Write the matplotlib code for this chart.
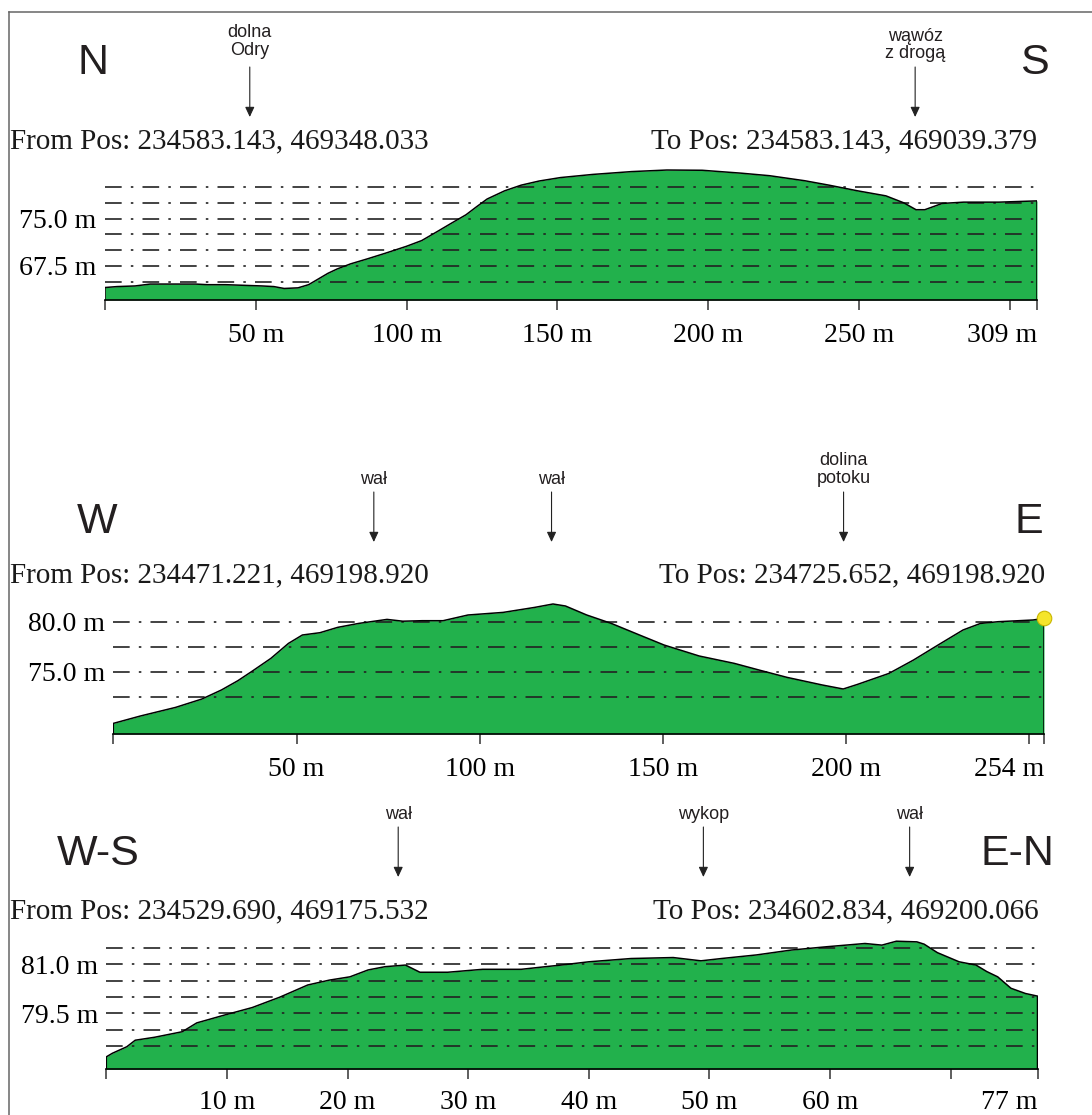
import matplotlib.pyplot as plt
from matplotlib.lines import Line2D

W, H = 1092, 1115

# --- profile 1: N - S ---
ns_dist = [0, 4, 10, 15, 20, 30, 34, 40, 52, 56, 59.4, 64, 67.5, 70, 73.9, 77, 81.4, 87, 93, 100,
           105, 110.4, 115, 119.7, 123, 126.7, 132.5, 138, 144, 151, 161.7, 174.6, 186.3, 198,
           210.9, 220.3, 232, 240, 249.5, 258.9, 264.8, 268.9, 271.8, 277.6, 284.7, 296.4, 309]
ns_elev = [64.05, 64.2, 64.3, 64.6, 64.6, 64.6, 64.5, 64.5, 64.3, 64.2, 63.9, 64.0, 64.5, 65.2,
           66.3, 67.0, 67.8, 68.6, 69.5, 70.6, 71.5, 73.0, 74.3, 75.6, 76.8, 78.1, 79.4, 80.3,
           80.96, 81.5, 82.0, 82.45, 82.7, 82.66, 82.2, 81.8, 81.0, 80.3, 79.4, 78.6, 77.5, 76.4,
           76.4, 77.4, 77.6, 77.6, 77.8]
ns_grid = [65.0, 67.5, 70.0, 72.5, 75.0, 77.5, 80.0]
ns_yticks = [67.5, 75.0]
ns_ylabels = ["67.5 m", "75.0 m"]
ns_xticks = [0, 50, 100, 150, 200, 250, 300, 309]
ns_xlabels = ["", "50 m", "100 m", "150 m", "200 m", "250 m", "", "309 m"]
ns_notes = ["dolna\nOdry", "wąwóz\nz drogą"]
ns_note_at = [48, 268.6]

# --- profile 2: W - E ---
we_dist = [0, 7.4, 17, 24.2, 29.5, 34, 38.1, 43, 47.8, 51.6, 56.4, 61.2, 67, 74.7, 79, 84.3, 90,
           96.8, 106.4, 115, 120, 123.4, 129.2, 135.9, 143.6, 150.3, 159.9, 169.5, 176.2, 183.9,
           193.5, 199.2, 203.1, 211.7, 218.4, 225.1, 231.9, 236.7, 241.5, 251, 254]
we_elev = [69.83, 70.57, 71.43, 72.27, 73.17, 74.1, 75.1, 76.33, 77.83, 78.67, 78.9, 79.43, 79.83,
           80.23, 80.05, 80.1, 80.1, 80.67, 80.93, 81.43, 81.77, 81.57, 80.67, 79.83, 78.67, 77.67,
           76.57, 75.83, 75.17, 74.43, 73.67, 73.27, 73.73, 74.83, 76.17, 77.67, 79.17, 79.83,
           80.0, 80.17, 80.33]
we_grid = [72.5, 75.0, 77.5, 80.0]
we_yticks = [75.0, 80.0]
we_ylabels = ["75.0 m", "80.0 m"]
we_xticks = [0, 50, 100, 150, 200, 250, 254]
we_xlabels = ["", "50 m", "100 m", "150 m", "200 m", "", "254 m"]
we_notes = ["wał", "wał", "dolina\npotoku"]
we_note_at = [71.1, 119.6, 199.3]

# --- profile 3: W-S - E-N ---
ws_dist = [0, 0.5, 1.7, 2.4, 4.0, 6.3, 7.5, 9.8, 12.1, 14.4, 16.7, 18.5, 20.2, 21.7, 23.1, 24.8,
           26, 28.3, 31.2, 34.4, 36.4, 37.7, 40, 43.5, 47, 49.3, 51, 53.9, 56.8, 59.7, 62.9, 64.3,
           65.5, 67.2, 67.8, 68.9, 70.7, 72.1, 73, 73.9, 75, 76.2, 77.2]
ws_elev = [78.17, 78.28, 78.48, 78.68, 78.77, 78.94, 79.21, 79.45, 79.68, 80.0, 80.37, 80.52,
           80.62, 80.83, 80.93, 80.98, 80.76, 80.76, 80.85, 80.85, 80.93, 80.98, 81.08, 81.18,
           81.21, 81.11, 81.18, 81.29, 81.44, 81.54, 81.64, 81.59, 81.71, 81.69, 81.62, 81.36,
           81.08, 80.98, 80.78, 80.62, 80.27, 80.11, 80.03]
ws_grid = [78.5, 79.0, 79.5, 80.0, 80.5, 81.0, 81.5]
ws_yticks = [79.5, 81.0]
ws_ylabels = ["79.5 m", "81.0 m"]
ws_xticks = [0, 10, 20, 30, 40, 50, 60, 70, 77.2]
ws_xlabels = ["", "10 m", "20 m", "30 m", "40 m", "50 m", "60 m", "", "77 m"]
ws_notes = ["wał", "wykop", "wał"]
ws_note_at = [24.2, 49.5, 66.6]

GREEN = "#22b14c"
SERIF = "Liberation Serif"
SANS = "Liberation Sans"

fig = plt.figure(figsize=(W / 100, H / 100), dpi=100)
fig.patch.set_facecolor("white")


def box(left, right, top, bottom):
    return [left / W, 1 - bottom / H, (right - left) / W, (bottom - top) / H]


def profile(rect, dist, elev, ylim, grid, yticks, ylabels, xticks, xlabels, pad=9.6):
    ax = fig.add_axes(rect)
    ax.set_xlim(dist[0], dist[-1])
    ax.set_ylim(*ylim)
    base = ylim[0]
    ax.fill_between(dist, elev, base, color=GREEN, lw=0, zorder=1)
    ax.plot([dist[0]] + dist + [dist[-1]], [base] + elev + [base], color="black", lw=1.1, zorder=3)
    for g in grid:
        ax.axhline(g, color="#222222", lw=1.2, ls=(0, (10, 5.5, 1.5, 5.5)), zorder=2)
    for s in ["top", "right", "left"]:
        ax.spines[s].set_visible(False)
    ax.spines["bottom"].set_linewidth(1.2)
    ax.set_xticks(xticks)
    ax.set_xticklabels(xlabels, fontfamily=SERIF, fontsize=20)
    ax.get_xticklabels()[-1].set_horizontalalignment("right")
    ax.tick_params(axis="x", length=7.2, width=1.1, color="#333333", pad=pad)
    ax.set_yticks(yticks)
    ax.set_yticklabels(ylabels, fontfamily=SERIF, fontsize=20)
    ax.tick_params(axis="y", length=0, pad=6)
    ax.patch.set_alpha(0)
    return ax


def notes(ax, labels, at, tops, arrow_top, arrow_tip):
    for lab, d, t in zip(labels, at, tops):
        ax.annotate(lab, xy=(d, H - t), xycoords=("data", "figure pixels"),
                    ha="center", va="top", fontfamily=SANS, fontsize=13,
                    color="#231f20", linespacing=1.05, annotation_clip=False)
        ax.annotate("", xy=(d, H - arrow_tip), xycoords=("data", "figure pixels"),
                    xytext=(d, H - arrow_top), textcoords=("data", "figure pixels"),
                    arrowprops=dict(arrowstyle="-|>,head_length=0.6,head_width=0.28",
                                    color="#222222", lw=0.8, shrinkA=0, shrinkB=0),
                    annotation_clip=False)


def header(left_txt, right_txt, left_x, right_x, base_y, c1, c2, cx1, cx2, c_base):
    fig.text(left_x / W, 1 - base_y / H, left_txt, ha="left", va="baseline",
             fontfamily=SERIF, fontsize=21, color="#1a1a1a")
    fig.text(right_x / W, 1 - base_y / H, right_txt, ha="right", va="baseline",
             fontfamily=SERIF, fontsize=21, color="#1a1a1a")
    fig.text(cx1 / W, 1 - c_base / H, c1, ha="center", va="baseline",
             fontfamily=SANS, fontsize=31, color="#231f20")
    fig.text(cx2 / W, 1 - c_base / H, c2, ha="center", va="baseline",
             fontfamily=SANS, fontsize=31, color="#231f20")


# panel 1
ax1 = profile(box(105, 1037, 160, 300), ns_dist, ns_elev, (62.07, 84.29),
              ns_grid, ns_yticks, ns_ylabels, ns_xticks, ns_xlabels)
notes(ax1, ns_notes, ns_note_at, [24, 27.7], 67, 117)
header("From Pos: 234583.143, 469348.033", "To Pos: 234583.143, 469039.379",
       10, 1037, 148, "N", "S", 93, 1034, 74)

# panel 2
ax2 = profile(box(113.3, 1044, 600, 734), we_dist, we_elev, (68.77, 82.17),
              we_grid, we_yticks, we_ylabels, we_xticks, we_xlabels)
ax2.scatter([we_dist[-1]], [we_elev[-1]], s=110, color="#f5e52a", edgecolor="#c9b600",
            linewidth=0.8, zorder=5, clip_on=False)
notes(ax2, we_notes, we_note_at, [471, 471, 452], 492, 542)
header("From Pos: 234471.221, 469198.920", "To Pos: 234725.652, 469198.920",
       10, 1045, 582, "W", "E", 97, 1029, 533)

# panel 3
ax3 = profile(box(106.3, 1037.5, 935, 1069.3), ws_dist, ws_elev, (77.79, 81.9),
              ws_grid, ws_yticks, ws_ylabels, ws_xticks, ws_xlabels, pad=7.8)
notes(ax3, ws_notes, ws_note_at, [806, 806, 806], 827, 877)
header("From Pos: 234529.690, 469175.532", "To Pos: 234602.834, 469200.066",
       10, 1039, 918, "W-S", "E-N", 98, 1017, 865)

# frame on the left and top
fig.add_artist(Line2D([9 / W, 9 / W], [0, 1 - 12 / H], transform=fig.transFigure,
                      color="#666666", lw=1.1))
fig.add_artist(Line2D([9 / W, 1], [1 - 12 / H, 1 - 12 / H], transform=fig.transFigure,
                      color="#666666", lw=1.1))

fig.savefig("out.png", dpi=100)
